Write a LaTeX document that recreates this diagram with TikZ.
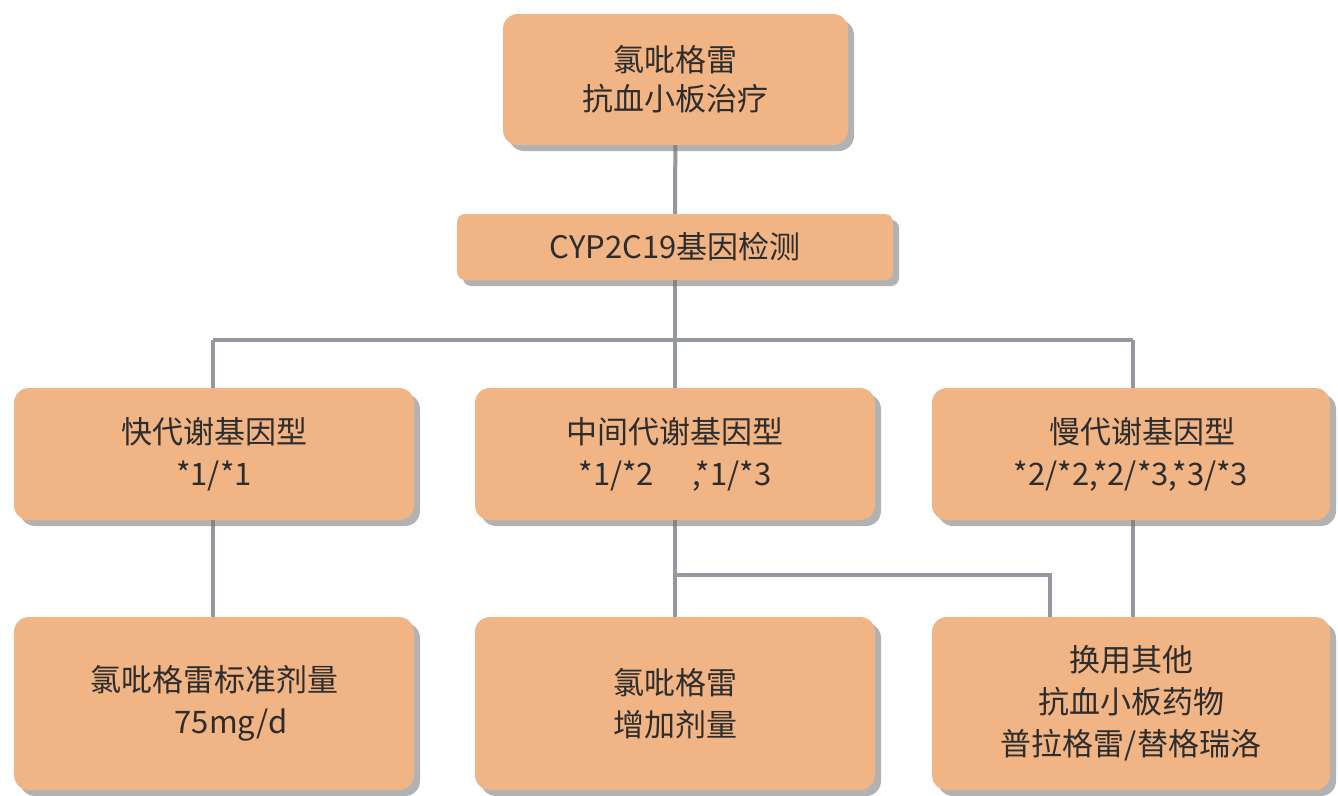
\documentclass[tikz,border=0pt]{standalone}
\usepackage{fontspec}
\setmainfont{Noto Sans CJK SC}
\usetikzlibrary{shadows,backgrounds}
\definecolor{boxfill}{RGB}{241,180,133}
\definecolor{linegray}{RGB}{150,152,160}
\definecolor{txt}{RGB}{45,45,45}
\begin{document}
\begin{tikzpicture}[x=1pt,y=-1pt,
  box/.style={rectangle, rounded corners=15pt, fill=boxfill, draw=none,
    text=txt, align=center, inner sep=0pt,
    font=\fontsize{31}{42}\selectfont,
    drop shadow={shadow xshift=6pt, shadow yshift=-6pt, fill=black!55, opacity=0.55}},
  conn/.style={draw=linegray, line width=4pt}]
\useasboundingbox (0,0) rectangle (1338,795);
\node[box, minimum width=345pt, minimum height=131pt, font=\fontsize{31}{39}\selectfont] (top) at (675.5,79.5) {氯吡格雷\\抗血小板治疗};
\node[box, minimum width=436pt, minimum height=66pt, rounded corners=8pt] (cyp) at (675,247) {CYP2C19基因检测};
\node[box, minimum width=400pt, minimum height=132pt] (ml) at (214,454) {快代谢基因型\\*1/*1};
\node[box, minimum width=400pt, minimum height=132pt] (mc) at (675,454) {中间代谢基因型\\*1/*2\quad\ ,*1/*3};
\node[box, minimum width=398pt, minimum height=132pt] (mr) at (1131,454) {\hspace*{22pt}慢代谢基因型\\*2/*2,*2/*3,*3/*3};
\node[box, minimum width=400pt, minimum height=173pt] (bl) at (214,703.5) {氯吡格雷标准剂量\\\hspace*{34pt}75mg/d};
\node[box, minimum width=400pt, minimum height=173pt] (bc) at (675,703.5) {氯吡格雷\\增加剂量};
\node[box, minimum width=398pt, minimum height=173pt] (br) at (1131,703.5) {换用其他\\抗血小板药物\\普拉格雷/替格瑞洛};
\coordinate (hl) at (213,340);
\coordinate (hc) at (675,340);
\coordinate (hr) at (1133,340);
\coordinate (b1) at (675,575);
\coordinate (b2) at (1050,575);
\begin{pgfonlayer}{background}
\fill[white] (0,0) rectangle (1338,795);
\draw[conn] (top) -- (cyp);
\draw[conn] (cyp) -- (hc);
\draw[conn] (hl) -- (hr);
\draw[conn] (hl) -- (hl |- ml.center);
\draw[conn] (hc) -- (mc);
\draw[conn] (hr) -- (hr |- mr.center);
\draw[conn] (hl |- ml.center) -- (hl |- bl.center);
\draw[conn] (mc) -- (bc);
\draw[conn] (hr |- mr.center) -- (hr |- br.center);
\draw[conn] (b1) -- (b2) -- (b2 |- br.center);
\end{pgfonlayer}
\end{tikzpicture}
\end{document}
